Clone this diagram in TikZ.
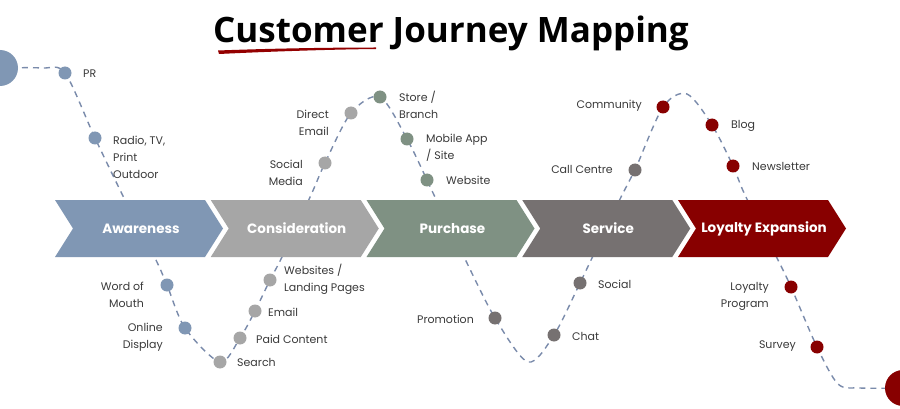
\documentclass[tikz,border=0pt]{standalone}
\usepackage{fontspec}
\setmainfont{Poppins}
\newfontfamily\titlefont{Open Sans}
\definecolor{aw}{HTML}{8097B4}
\definecolor{co}{HTML}{A6A6A6}
\definecolor{pu}{HTML}{7F9183}
\definecolor{se}{HTML}{767171}
\definecolor{lo}{HTML}{880000}
\definecolor{dashc}{HTML}{7A8BAB}
\definecolor{txt}{HTML}{3A3A3A}
\begin{document}
\begin{tikzpicture}[x=1pt,y=-1pt,
  dot/.style={circle,minimum size=13pt,inner sep=0pt,draw=none},
  lbl/.style={inner sep=0pt,text=txt,font=\fontsize{11}{17}\selectfont},
  lr/.style={lbl,anchor=west,align=left},
  ll/.style={lbl,anchor=east,align=right},
  stage/.style={text=white,font=\fontsize{13.5}{16}\selectfont\bfseries,inner sep=0pt},
  dashline/.style={draw=dashc,line width=1.4pt,dash pattern=on 6pt off 5pt}]
\useasboundingbox (0,0) rectangle (900,409);
\fill[white] (0,0) rectangle (900,409);

% title
\node[font=\titlefont\fontsize{35}{40}\selectfont\bfseries,anchor=base,inner sep=0pt] (title) at (451,43) {Customer Journey Mapping};
\fill[lo!90!red] (218,50.5) .. controls (270,48.5) and (330,47.5) .. (376,47.5)
  -- (376,49) .. controls (330,49.5) and (270,51.5) .. (219,54) -- cycle;

% path coordinates
\coordinate (s0) at (0,68);
\coordinate (s1) at (42,68);
\coordinate (c-pr) at (65,73);
\coordinate (c-radio) at (95,138);
\coordinate (a1) at (125,200);
\coordinate (a2) at (155,258);
\coordinate (c-word) at (167,285);
\coordinate (c-online) at (185,328);
\coordinate (c-search) at (220,362);
\coordinate (c-paid) at (240,338);
\coordinate (c-email) at (255,311);
\coordinate (c-web) at (270,280);
\coordinate (a3) at (282,257);
\coordinate (a4) at (311,195);
\coordinate (c-social) at (325,163);
\coordinate (c-direct) at (351,113);
\coordinate (c-store) at (380,97);
\coordinate (c-mobile) at (407,139);
\coordinate (c-website) at (427,180);
\coordinate (a5) at (434,195);
\coordinate (a6) at (465,259);
\coordinate (c-promo) at (495,318);
\coordinate (t1) at (528,362);
\coordinate (c-chat) at (554,335);
\coordinate (c-soc2) at (580,283);
\coordinate (a7) at (592,258);
\coordinate (a8) at (622,195);
\coordinate (c-call) at (635,170);
\coordinate (c-comm) at (663,107);
\coordinate (t2) at (687,94);
\coordinate (c-blog) at (712,125);
\coordinate (c-news) at (733,166);
\coordinate (a9) at (745,195);
\coordinate (a10) at (777,258);
\coordinate (c-loyal) at (791,287);
\coordinate (c-survey) at (817,347);
\coordinate (b1) at (838,384);
\coordinate (b2) at (860,388);
\coordinate (e0) at (903,388);

\draw[dashline] plot[smooth,tension=0.5] coordinates {(s0) (s1) (c-pr) (c-radio) (a1) (a2) (c-word) (c-online) (c-search) (c-paid) (c-email) (c-web) (a3) (a4) (c-social) (c-direct) (c-store) (c-mobile) (c-website) (a5) (a6) (c-promo) (t1) (c-chat) (c-soc2) (a7) (a8) (c-call) (c-comm) (t2) (c-blog) (c-news) (a9) (a10) (c-loyal) (c-survey) (b1) (b2) (e0)};

% stage arrows
\foreach \x/\col/\name/\txt in {55/aw/aware/Awareness, 210.75/co/consid/Consideration, 366.5/pu/purch/Purchase, 522.25/se/serv/Service, 678/lo/loyal/Loyalty Expansion}{
  \fill[\col] (\x,200) -- ++(150,0) -- ++(18,28.5) -- ++(-18,28.5) -- ++(-150,0) -- ++(18,-28.5) -- cycle;
  \node[stage] (\name) at (\x+86,228.5) {\txt};
}

% dots
\foreach \n/\col in {pr/aw, radio/aw, word/aw, online/aw, search/co, paid/co, email/co, web/co, social/co, direct/co, store/pu, mobile/pu, website/pu, promo/se, chat/se, soc2/se, call/se, comm/lo, blog/lo, news/lo, loyal/lo, survey/lo}{
  \node[dot,fill=\col] (d-\n) at (c-\n) {};
}

% big end circles
\node[circle,fill=aw,minimum size=36pt,inner sep=0pt] (startc) at (s0) {};
\node[circle,fill=lo,minimum size=36pt,inner sep=0pt] (endc) at (e0) {};

% labels
\node[lr] (l-pr) at (83,74) {PR};
\node[lr] (l-radio) at (113,157) {Radio, TV,\\Print\\Outdoor};
\node[ll] (l-word) at (144,294.5) {Word of\\Mouth};
\node[ll] (l-online) at (163,337.5) {Online\\Display};
\node[lr] (l-search) at (237,362) {Search};
\node[lr] (l-paid) at (256,339) {Paid Content};
\node[lr] (l-email) at (268,312) {Email};
\node[lr] (l-web) at (284,279.5) {Websites /\\Landing Pages};
\node[ll] (l-social) at (303,172.5) {Social\\Media};
\node[ll] (l-direct) at (329,122.5) {Direct\\Email};
\node[lr] (l-store) at (399,104.5) {Store /\\Branch};
\node[lr] (l-mobile) at (426,147.5) {Mobile App\\/ Site};
\node[lr] (l-website) at (446,180) {Website};
\node[ll] (l-promo) at (474,319) {Promotion};
\node[lr] (l-chat) at (572,336) {Chat};
\node[lr] (l-soc2) at (598,284) {Social};
\node[ll] (l-call) at (613,169) {Call Centre};
\node[ll] (l-comm) at (642,106) {Community};
\node[lr] (l-blog) at (731,126) {Blog};
\node[lr] (l-news) at (752,166) {Newsletter};
\node[ll] (l-loyal) at (769,296.5) {Loyalty\\Program};
\node[ll] (l-survey) at (796,346) {Survey};
\end{tikzpicture}
\end{document}
